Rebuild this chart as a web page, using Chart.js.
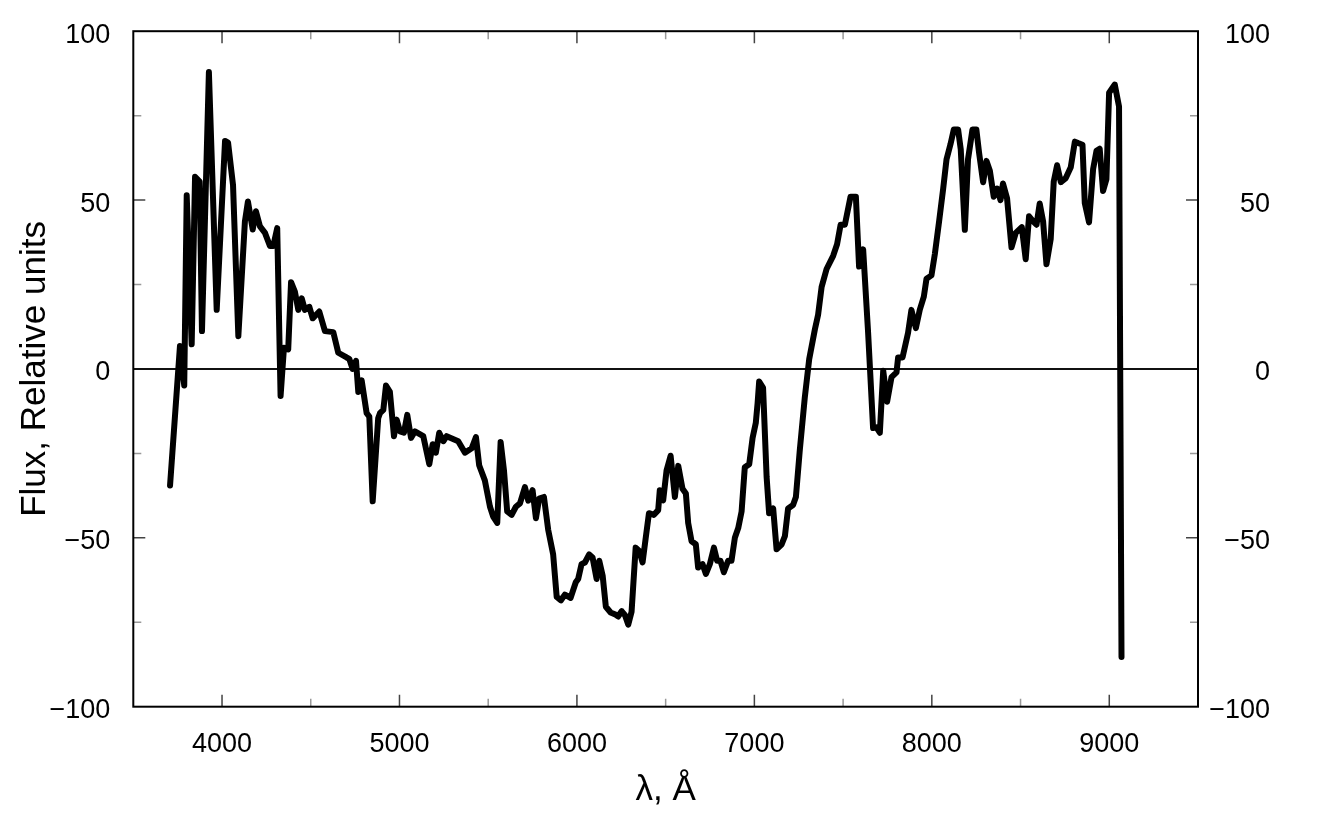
<!DOCTYPE html>
<html>
<head>
<meta charset="utf-8">
<script src="https://cdn.jsdelivr.net/npm/chart.js@4.4.0/dist/chart.umd.min.js"></script>
<style>
  html, body { margin: 0; padding: 0; background: #fff; }
  #wrap { width: 1326px; height: 823px; }
</style>
</head>
<body>
<div id="wrap"><canvas id="chart"></canvas></div>
<script>
// Spectrum
const wavelength = [
  3707, 3763, 3787, 3801, 3829, 3848, 3874, 3887, 3926, 3970,
  4017, 4034, 4062, 4092, 4129, 4146, 4173, 4191, 4214, 4242,
  4270, 4289, 4311, 4330, 4349, 4373, 4389, 4411, 4430, 4449,
  4467, 4492, 4511, 4548, 4580, 4627, 4655, 4702, 4717, 4736,
  4755, 4768, 4787, 4815, 4830, 4849, 4880, 4890, 4909, 4924,
  4946, 4969, 4984, 5003, 5025, 5044, 5065, 5087, 5134, 5168,
  5187, 5205, 5224, 5247, 5266, 5331, 5369, 5407, 5431, 5449,
  5481, 5510, 5528, 5551, 5570, 5589, 5607, 5632, 5656, 5679,
  5707, 5726, 5750, 5769, 5787, 5814, 5838, 5866, 5886, 5910,
  5932, 5964, 5994, 6007, 6026, 6045, 6069, 6088, 6111, 6126,
  6145, 6163, 6190, 6220, 6232, 6252, 6270, 6289, 6308, 6331,
  6351, 6370, 6389, 6406, 6434, 6458, 6467, 6486, 6505, 6528,
  6552, 6571, 6595, 6614, 6627, 6646, 6670, 6683, 6708, 6727,
  6749, 6772, 6790, 6809, 6828, 6852, 6871, 6890, 6909, 6928,
  6946, 6971, 6990, 7008, 7018, 7027, 7049, 7069, 7083, 7106,
  7125, 7153, 7172, 7190, 7218, 7234, 7256, 7284, 7309, 7341,
  7359, 7379, 7407, 7444, 7466, 7486, 7510, 7542, 7572, 7590,
  7613, 7641, 7669, 7688, 7707, 7726, 7748, 7773, 7801, 7810,
  7835, 7866, 7885, 7910, 7932, 7955, 7970, 7998, 8017, 8041,
  8064, 8083, 8105, 8124, 8148, 8163, 8186, 8204, 8229, 8251,
  8266, 8289, 8308, 8327, 8349, 8368, 8387, 8401, 8424, 8449,
  8473, 8507, 8529, 8548, 8571, 8590, 8608, 8627, 8646, 8670,
  8687, 8706, 8727, 8755, 8783, 8806, 8824, 8849, 8862, 8886,
  8909, 8928, 8946, 8965, 8984, 8999, 9031, 9055, 9069
];
const flux = [
  -34.5, 6.8, -4.9, 51.4, 7.3, 56.9, 55.5, 11.2, 87.9, 17.5,
  67.5, 67, 54.4, 9.7, 43.7, 49.6, 41.3, 46.7, 42.2, 40.3,
  36.4, 36.4, 41.7, -8, 6.3, 5.8, 25.7, 22.8, 17.5, 20.9,
  17.5, 18.4, 15, 17, 11.2, 10.9, 4.8, 3.4, 3, 0,
  2.4, -6.8, -3.4, -13.1, -14.1, -39.2, -14.6, -13.1, -12.1, -4.9,
  -6.8, -19.9, -15, -18.5, -18.9, -13.6, -20.4, -18.5, -19.9, -28.2,
  -22.3, -24.8, -18.9, -21.4, -19.9, -21.4, -24.8, -23.5, -20.2, -28.5,
  -33, -40.8, -43.7, -45.6, -21.6, -30.1, -42.2, -43.2, -40.8, -39.8,
  -35, -39, -35.9, -44.2, -38.4, -37.9, -47.6, -54.9, -67.5, -68.5,
  -66.8, -67.8, -63.1, -62.2, -57.8, -57.3, -54.9, -55.8, -62.2, -56.8,
  -61.2, -70.4, -72.1, -72.8, -73.3, -71.7, -72.8, -75.7, -71.9, -52.9,
  -53.9, -57.3, -49.5, -42.7, -43.2, -41.8, -35.9, -38.9, -30.1, -25.7,
  -37.9, -28.7, -35.5, -36.9, -45.6, -51, -51.9, -58.8, -57.8, -60.7,
  -57.8, -52.9, -56.8, -56.8, -60.2, -56.8, -56.8, -50, -47.1, -42.2,
  -29.1, -28.2, -20.4, -16, -10.2, -3.7, -5.6, -32, -42.7, -41.3,
  -53.4, -52, -49.5, -41.3, -40.3, -37.9, -24, -8.5, 2.9, 11.7,
  16, 24.3, 29.6, 33.5, 36.9, 42.7, 42.7, 51, 51, 30.3,
  35.4, 10.7, -17.5, -17.3, -18.9, -0.5, -9.7, -2.4, -1, 3.4,
  3.4, 10.7, 17.5, 12.1, 17.5, 21.4, 26.7, 27.7, 34, 43.7,
  53.4, 62.1, 66.5, 70.9, 70.9, 65, 41.2, 62.1, 70.9, 70.9,
  64.1, 55.3, 61.6, 58.7, 51, 53.4, 50, 54.9, 50.5, 36,
  40.3, 42, 32.5, 45.2, 43.7, 42.7, 49, 43.7, 31, 38.5,
  55.5, 60.3, 55.3, 56.5, 59.7, 67.3, 66.9, 66.4, 49.1, 43.4,
  59.2, 64.6, 65.2, 52.7, 56.2, 81.8, 84.2, 77.7, -85.3
];

// Axes
const xTicks = [4000, 5000, 6000, 7000, 8000, 9000];
const xMinorTicks = [4500, 5500, 6500, 7500, 8500];
const yTicks = [-100, -50, 0, 50, 100];
const yMinorTicks = [-75, -25, 25, 75];

const tickFont = { family: 'Liberation Sans, Arial, sans-serif', size: 27 };
const titleFont = { family: 'Liberation Sans, Arial, sans-serif', size: 35 };

function fmt(v) {
  return v < 0 ? '\u2212' + Math.abs(v) : String(v);
}

// frame, inward ticks and the zero line
const framePlugin = {
  id: 'frame',
  beforeDatasetsDraw(chart) {
    const { ctx, chartArea: a, scales } = chart;
    const y0 = scales.y.getPixelForValue(0);
    ctx.save();
    ctx.strokeStyle = '#111';
    ctx.lineWidth = 2;
    ctx.beginPath();
    ctx.moveTo(a.left, y0);
    ctx.lineTo(a.right, y0);
    ctx.stroke();
    ctx.restore();
  },
  afterDatasetsDraw(chart) {
    const { ctx, chartArea: a, scales } = chart;
    ctx.save();
    ctx.lineWidth = 1.5;

    function xt(list, len, color) {
      ctx.strokeStyle = color;
      ctx.beginPath();
      list.forEach(v => {
        const px = scales.x.getPixelForValue(v);
        ctx.moveTo(px, a.bottom); ctx.lineTo(px, a.bottom - len);
        ctx.moveTo(px, a.top); ctx.lineTo(px, a.top + len);
      });
      ctx.stroke();
    }
    function yt(list, len, color) {
      ctx.strokeStyle = color;
      ctx.beginPath();
      list.forEach(v => {
        const py = scales.y.getPixelForValue(v);
        ctx.moveTo(a.left, py); ctx.lineTo(a.left + len, py);
        ctx.moveTo(a.right, py); ctx.lineTo(a.right - len, py);
      });
      ctx.stroke();
    }
    xt(xTicks, 12, '#444');
    xt(xMinorTicks, 8, '#999');
    yt([-50, 50], 12, '#444');
    yt(yMinorTicks, 8, '#999');

    ctx.strokeStyle = '#000';
    ctx.lineWidth = 2;
    ctx.strokeRect(a.left, a.top, a.right - a.left, a.bottom - a.top);
    ctx.restore();
  }
};

const ctx = document.getElementById('chart').getContext('2d');
const chart = new Chart(ctx, {
  type: 'line',
  data: {
    datasets: [{
      data: wavelength.map((w, i) => ({ x: w, y: flux[i] })),
      borderColor: '#000',
      borderWidth: 6,
      borderJoinStyle: 'round',
      borderCapStyle: 'round',
      pointRadius: 0,
      tension: 0,
      fill: false
    }]
  },
  options: {
    responsive: true,
    maintainAspectRatio: false,
    animation: false,
    layout: { padding: { top: 20, right: 56, bottom: 0, left: 0 } },
    plugins: { legend: { display: false }, tooltip: { enabled: false } },
    scales: {
      x: {
        type: 'linear',
        min: 3500,
        max: 9500,
        grid: { display: false },
        border: { display: false },
        afterBuildTicks: s => { s.ticks = xTicks.map(v => ({ value: v })); },
        afterFit: s => { s.height = 116.3; },
        ticks: { font: tickFont, color: '#000', padding: 14, maxRotation: 0, callback: v => fmt(v) },
        title: { display: true, text: 'λ, Å', font: titleFont, color: '#000', padding: { top: 0, bottom: 12 } }
      },
      y: {
        position: 'left',
        min: -100,
        max: 100,
        grid: { display: false },
        border: { display: false },
        afterBuildTicks: s => { s.ticks = yTicks.map(v => ({ value: v })); },
        afterFit: s => { s.width = 133.3; },
        ticks: { font: tickFont, color: '#000', padding: 15, labelOffset: 4, callback: v => fmt(v) },
        title: { display: true, text: 'Flux, Relative units', font: titleFont, color: '#000', padding: { top: 14, bottom: 0 } }
      },
      y2: {
        position: 'right',
        min: -100,
        max: 100,
        grid: { display: false },
        border: { display: false },
        afterBuildTicks: s => { s.ticks = yTicks.map(v => ({ value: v })); },
        afterFit: s => { s.width = 72; },
        ticks: { font: tickFont, color: '#000', crossAlign: 'far', labelOffset: 4, callback: v => fmt(v) }
      }
    }
  },
  plugins: [framePlugin]
});
</script>
</body>
</html>
